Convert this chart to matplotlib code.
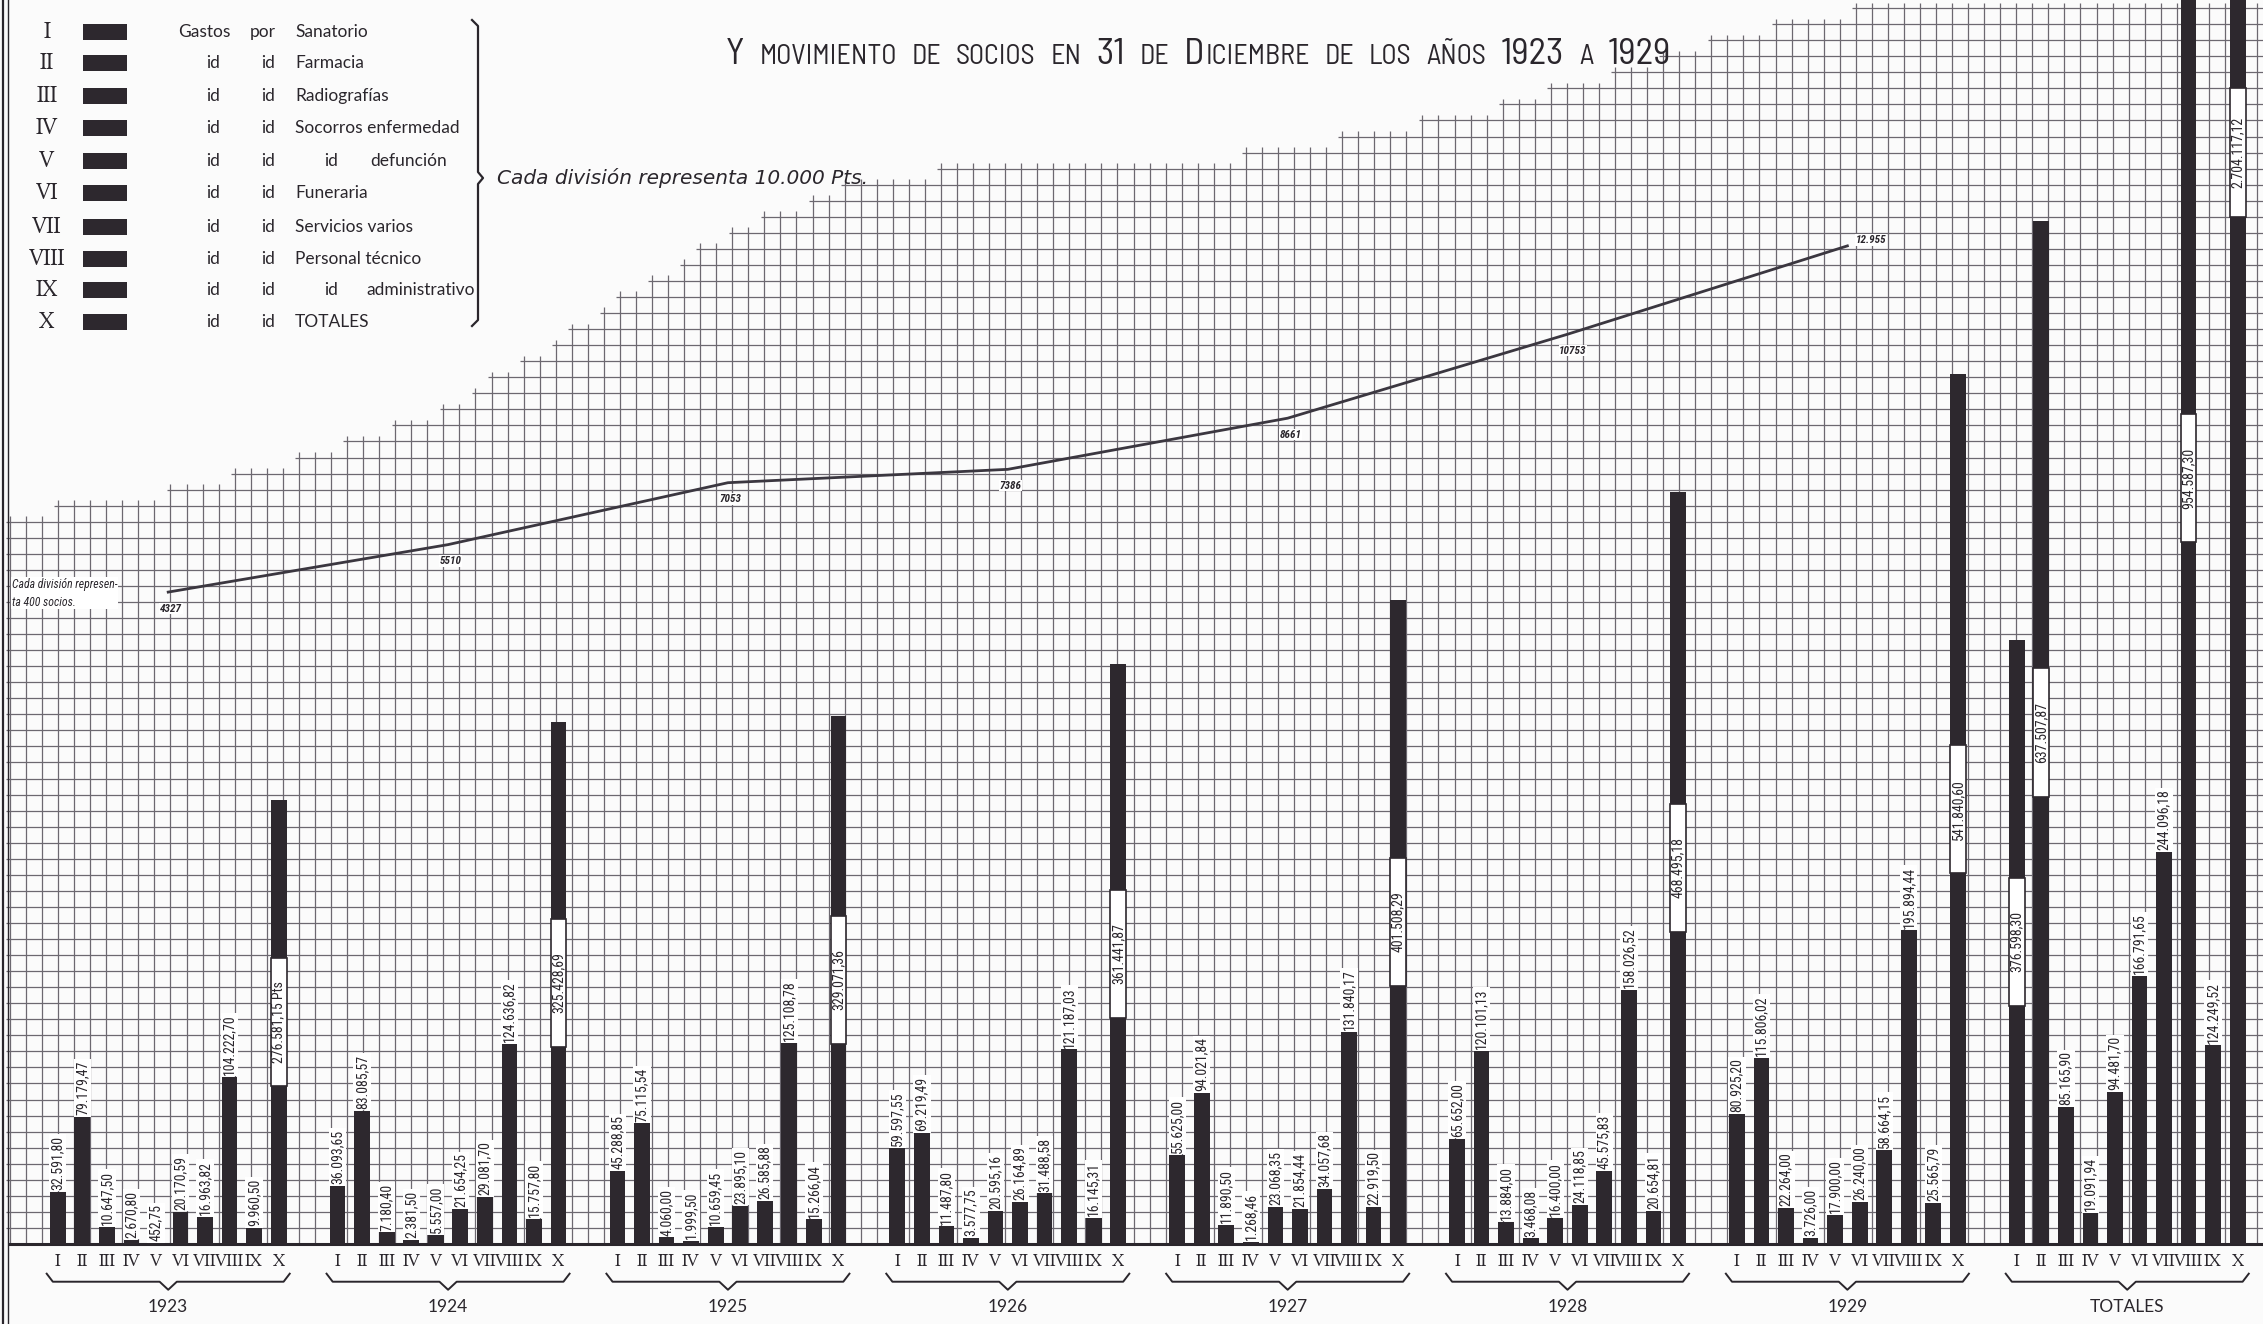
import numpy as np
import matplotlib
matplotlib.use('Agg')
import matplotlib.pyplot as plt
from matplotlib.patches import Rectangle
from matplotlib.collections import LineCollection
from matplotlib.lines import Line2D
from matplotlib import font_manager as fm

# ---- data (Pts) ----
years = ['1923', '1924', '1925', '1926', '1927', '1928', '1929', 'TOTALES']
cats = ['I', 'II', 'III', 'IV', 'V', 'VI', 'VII', 'VIII', 'IX', 'X']

g1923 = [32591.80, 79179.47, 10647.50, 2670.80, 452.75, 20170.59, 16963.82, 104222.70, 9960.50, 276581.15]
g1924 = [36093.65, 83085.57, 7180.40, 2381.50, 5557.00, 21654.25, 29081.70, 124636.82, 15757.80, 325428.69]
g1925 = [45288.85, 75115.54, 4060.00, 1999.50, 10659.45, 23895.10, 26585.88, 125108.78, 15266.04, 329071.36]
g1926 = [59597.55, 69219.49, 11487.80, 3577.75, 20595.16, 26164.89, 31488.58, 121187.03, 16145.31, 361441.87]
g1927 = [55625.00, 94021.84, 11890.50, 1268.46, 23068.35, 21854.44, 34057.68, 131840.17, 22919.50, 401508.29]
g1928 = [65652.00, 120101.13, 13884.00, 3468.08, 16400.00, 24118.85, 45575.83, 158026.52, 20654.81, 468495.18]
g1929 = [80925.20, 115806.02, 22264.00, 3726.00, 17900.00, 26240.00, 58664.15, 195894.44, 25565.79, 541840.60]
gtot = [376598.30, 637507.87, 85165.90, 19091.94, 94481.70, 166791.65, 244096.18, 954587.30, 124249.52, 2704117.12]
series = [g1923, g1924, g1925, g1926, g1927, g1928, g1929, gtot]

# socios at 31 Dec
socios = [4327, 5510, 7053, 7386, 8661, 10753, 12955]
socios_lbl = ['4327', '5510', '7053', '7386', '8661', '10753', '12.955']

legend_names = ['Sanatorio', 'Farmacia', 'Radiografías', 'Socorros enfermedad', 'defunción',
                'Funeraria', 'Servicios varios', 'Personal técnico', 'administrativo', 'TOTALES']

# ---- layout ----
W, H = 2263, 1324
X0, X1 = -2.352, 89.83
Y0, Y1 = -49844, 775074
GROUP = 11.4
BW = 0.64
BAR = '#2d282e'
INK = '#2a262c'
GRID = '#6c6870'

# stepped top of the squared paper (x in bar units, height in Pts)
ceil_u = [-2.35, 3.5, 9.4, 15.3, 18.8, 22.4, 25.9, 29.4, 32.9, 38.8, 49.4, 54.1, 58.8, 62.4, 65.9, 69.4, 72.9, 89.9]
ceil_v = [456e3, 467e3, 489e3, 521e3, 550e3, 586e3, 618e3, 645e3, 667e3, 674e3, 681e3, 696e3, 710e3,
          728e3, 744e3, 759e3, 770e3, 770e3]

names = {f.name for f in fm.fontManager.ttflist}
def pick(*fams):
    for f in fams:
        if f in names:
            return f
    return 'DejaVu Sans'
SERIF = pick('Libertinus Serif', 'Liberation Serif', 'DejaVu Serif')
NARROW = pick('Roboto Condensed', 'Barlow Condensed', 'Archivo Narrow', 'DejaVu Sans')
TITLE = pick('Barlow Semi Condensed', 'Roboto Condensed', 'Lato')
LATO = pick('Lato', 'DejaVu Sans')


def es(v):
    s = f"{v:,.2f}"
    return s.replace(',', '#').replace('.', ',').replace('#', '.')


def P(x, y):
    return x / W, 1 - y / H


fig = plt.figure(figsize=(W / 100, H / 100), dpi=100, facecolor='#fbfbfb')
ax = fig.add_axes([0, 0, 1, 1])
ax.set_xlim(X0, X1)
ax.set_ylim(Y0, Y1)
ax.axis('off')

# squared paper
step = 0.6538
xs_grid = np.arange(-1.945, 89.9, step)
tops = np.floor(np.interp(xs_grid, ceil_u, ceil_v) / 10000) * 10000
segs = [[(xv, 0), (xv, t + 3500)] for xv, t in zip(xs_grid, tops)]
for h in np.arange(10000, 780000, 10000):
    ok = np.where(tops >= h)[0]
    if len(ok):
        segs.append([(xs_grid[ok[0]] - 0.15, h), (89.9, h)])
ax.add_collection(LineCollection(segs, colors=GRID, linewidths=0.9, zorder=1))
ax.plot([-1.945, 89.9], [0, 0], color=INK, lw=2.2, zorder=2)

# bars + labels
for g, vals in enumerate(series):
    xb = g * GROUP + np.arange(len(cats))
    ax.bar(xb, vals, width=BW, color=BAR, zorder=3)
    for i, (x, v) in enumerate(zip(xb, vals)):
        lbl = es(v) + (' Pts' if g == 0 and i == 9 else '')
        if i == 9 or v > 300000:
            yc = min(v / 2, 680000)
            ax.add_patch(Rectangle((x - BW / 2, yc - 40000), BW, 80000, fc='white', ec=BAR, lw=1.2, zorder=4))
            ax.text(x, yc, lbl, rotation=90, ha='center', va='center', fontsize=10,
                    family=NARROW, color=INK, zorder=5)
        else:
            ax.text(x, v + 1200, lbl, rotation=90, ha='center', va='bottom', fontsize=10,
                    family=NARROW, color=INK, zorder=5,
                    bbox=dict(fc='white', ec='none', pad=1.2))
        ax.text(x, -10600, cats[i], ha='center', va='center', fontsize=13.5, family=SERIF, color=INK)
    # brace under the group
    a, b = xb[0] - 0.45, xb[-1] + 0.45
    c = (a + b) / 2
    ax.plot([a, a + 0.25, c - 0.35, c, c + 0.35, b - 0.25, b],
            [-18500, -23500, -23500, -28500, -23500, -23500, -18500],
            color=INK, lw=1.4, clip_on=False)
    ax.text(c, -39500, years[g], ha='center', va='center', fontsize=12.5, family=LATO, color=INK)

# socios line on its own scale (400 socios per division)
ax2 = ax.twinx()
ax2.set_position([0, 0, 1, 1])
ax2.set_ylim((Y0 - 298000) / 25, (Y1 - 298000) / 25)
ax2.axis('off')
xl = np.arange(len(socios)) * GROUP + 4.5
ax2.plot(xl, socios, color='#3b3740', lw=2.0, zorder=6)
for k, (x, s, t) in enumerate(zip(xl, socios, socios_lbl)):
    off = (6, 2) if k == len(socios) - 1 else (-6, -14)
    ax2.annotate(t, (x, s), xytext=off, textcoords='offset points', fontsize=8,
                 style='italic', weight='bold', family=NARROW, color=INK,
                 bbox=dict(fc='white', ec='none', pad=0.5))
fig.text(*P(12, 593), 'Cada división represen-\nta 400 socios.', fontsize=8.5, style='italic',
         family=NARROW, color=INK, va='center', ha='left', linespacing=1.5,
         bbox=dict(fc='white', ec='none', pad=0.5))

# legend block
rows_y = [31.7, 63.3, 96, 128.3, 161, 193.3, 226.7, 259.3, 290, 321.7]
for r, (num, name) in enumerate(zip(cats, legend_names)):
    y = rows_y[r]
    fig.text(*P(47, y), num, ha='center', va='center', fontsize=17, family=SERIF, color=INK)
    fig.add_artist(Rectangle(P(83, y + 8), 44 / W, 16 / H, transform=fig.transFigure, fc=BAR, ec='none'))
    if r == 0:
        fig.text(*P(178, y), 'Gastos', va='center', fontsize=12.5, family=LATO, color=INK)
        fig.text(*P(250, y), 'por', va='center', fontsize=12.5, family=LATO, color=INK)
    else:
        fig.text(*P(206, y), 'id', va='center', fontsize=12.5, family=LATO, color=INK)
        fig.text(*P(261, y), 'id', va='center', fontsize=12.5, family=LATO, color=INK)
    if r in (4, 8):
        fig.text(*P(324, y), 'id', va='center', fontsize=12.5, family=LATO, color=INK)
        fig.text(*P(370 if r == 4 else 366, y), name, va='center', fontsize=12.5, family=LATO, color=INK)
    else:
        fig.text(*P(295, y), name, va='center', fontsize=12.5, family=LATO, color=INK)

bx = [472, 478, 478, 483, 478, 478, 472]
by = [20, 26, 172, 178, 184, 320, 326]
fig.add_artist(Line2D([v / W for v in bx], [1 - v / H for v in by], transform=fig.transFigure,
                      color=INK, lw=1.6))
fig.text(*P(497, 178), 'Cada división representa 10.000 Pts.', va='center', fontsize=14.5,
         style='italic', family='DejaVu Sans', color=INK)

# title in small capitals: large pieces for initials and figures
title_pieces = [('Y', 1), ('MOVIMIENTO', 0), ('DE', 0), ('SOCIOS', 0), ('EN', 0), ('31', 1), ('DE', 0),
                ('D', 1), ('ICIEMBRE', 0), ('DE', 0), ('LOS', 0), ('AÑOS', 0), ('1923', 1), ('A', 0), ('1929', 1)]
glue = [1, 1, 1, 1, 1, 1, 1, 0, 1, 1, 1, 1, 1, 1, 0]   # 1 = word gap after the piece
renderer = fig.canvas.get_renderer()


def draw_title(small, big, gap, x_start, draw=True):
    x = x_start
    made = []
    for (txt, isbig), gl in zip(title_pieces, glue):
        t = fig.text(x / W, 1 - 64 / H, txt, fontsize=big if isbig else small, family=TITLE,
                     color=INK, va='baseline', ha='left')
        wpx = t.get_window_extent(renderer).width
        made.append(t)
        x += wpx + (gap if gl else 1)
    if not draw:
        for t in made:
            t.remove()
    return x - x_start


w0 = draw_title(15, 20, 11, 726, draw=False)
sc = 949.0 / w0
draw_title(15 * sc, 20 * sc, 11 * sc, 726)

# paper edge
for px, lw in ((3, 1.6), (8, 1.0)):
    fig.add_artist(Line2D([px / W, px / W], [0, 1], transform=fig.transFigure, color=INK, lw=lw))

fig.savefig('out.png', dpi=100, facecolor=fig.get_facecolor())
